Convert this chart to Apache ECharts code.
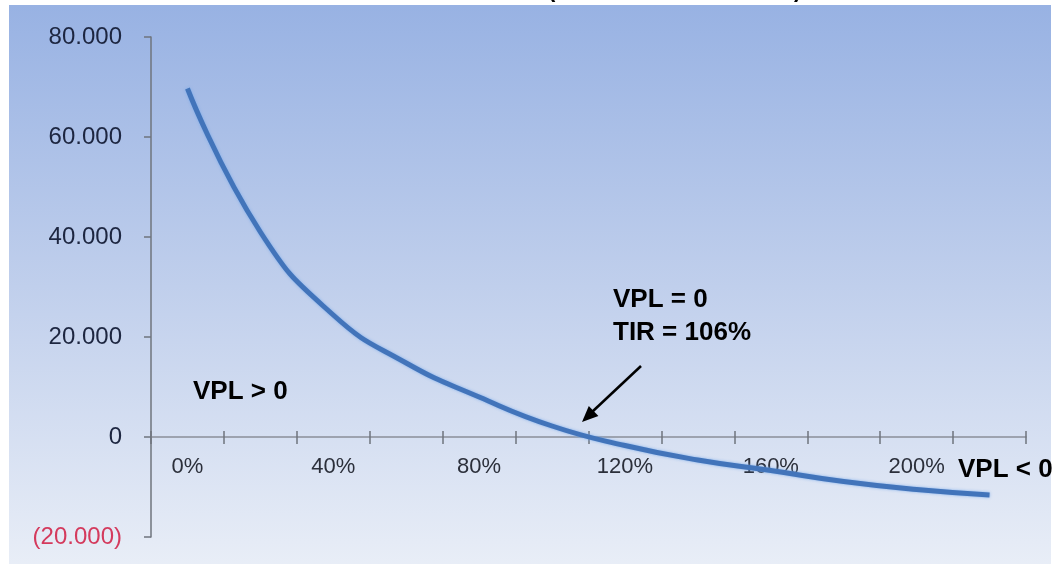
<!DOCTYPE html>
<html>
<head>
<meta charset="utf-8">
<script src="https://cdn.jsdelivr.net/npm/echarts@6/dist/echarts.min.js"></script>
<style>
html,body{margin:0;padding:0;background:#fff;}
#c{width:1058px;height:564px;}
</style>
</head>
<body>
<div id="c"></div>
<script>
// Data
var rates = ['0%','20%','40%','60%','80%','100%','120%','140%','160%','180%','200%','220%'];
var npv = [69700, 41000, 24400, 14800, 8000, 2200, -1700, -4600, -6700, -8900, -10500, -11600];
var yTicks = { min: -20000, max: 80000, interval: 20000 };
var notes = { pos: 'VPL > 0', zero: 'VPL = 0', irr: 'TIR = 106%', neg: 'VPL < 0' };

function fmtThousands(v){
  var s = Math.abs(Math.round(v)).toString().replace(/\B(?=(\d{3})+(?!\d))/g, '.');
  return v < 0 ? '(' + s + ')' : s;
}

var chart = echarts.init(document.getElementById('c'), null, {renderer:'canvas'});
var annFont = 'bold 26px Arial, "Liberation Sans", sans-serif';
// offset of the zero line from the bottom of the grid (px), derived from the axis range
var gridTop = 37, gridBottom = 27, gridH = 564 - gridTop - gridBottom;
var zeroOffset = -gridH * (0 - yTicks.min) / (yTicks.max - yTicks.min);
var option = {
  animation: false,
  grid: { left: 151, right: 32, top: gridTop, bottom: gridBottom, containLabel: false, outerBoundsMode: 'none' },
  xAxis: [{
    type: 'category',
    data: rates,
    position: 'bottom',
    offset: zeroOffset,
    boundaryGap: true,
    axisLine: { onZero: false, lineStyle: { color: '#8a8f99', width: 1.5 } },
    axisTick: { show: true, interval: 0, inside: false, length: 7, lineStyle: { color: '#6f747d', width: 1.5 } },
    axisLabel: { interval: 1, margin: 19, fontSize: 22, fontFamily: 'Arial, "Liberation Sans", sans-serif', color: '#2b2f3a' },
    splitLine: { show: false }
  },{
    type: 'category',
    data: rates,
    position: 'bottom',
    offset: zeroOffset,
    boundaryGap: true,
    axisLine: { onZero: false, show: false },
    axisTick: { show: true, interval: 0, inside: true, length: 6, lineStyle: { color: '#6f747d', width: 1.5 } },
    axisLabel: { show: false },
    splitLine: { show: false }
  }],
  yAxis: {
    type: 'value',
    min: yTicks.min, max: yTicks.max, interval: yTicks.interval,
    axisLine: { show: true, lineStyle: { color: '#6f747d', width: 1.5 } },
    axisTick: { show: true, inside: false, length: 7, lineStyle: { color: '#6f747d', width: 1.5 } },
    splitLine: { show: false },
    axisLabel: {
      margin: 29, fontSize: 24, fontFamily: 'Arial, "Liberation Sans", sans-serif',
      formatter: function(v){ return fmtThousands(v); },
      color: function(v){ return Number(v) < 0 ? '#d43a5d' : '#1d2640'; }
    }
  },
  series: [{
    type: 'line',
    data: npv,
    smooth: true,
    showSymbol: false,
    symbol: 'none',
    z: 5,
    lineStyle: { color: '#4274ba', width: 5, shadowColor: 'rgba(120,170,235,0.9)', shadowBlur: 3 }
  }],
  graphic: [
    { type: 'rect', z: -100, silent: true,
      shape: { x: 9, y: 5, width: 1042, height: 564 },
      style: { fill: new echarts.graphic.LinearGradient(0,0,0,1,[
        {offset:0, color:'#98b2e3'},
        {offset:0.5, color:'#c0cfec'},
        {offset:1, color:'#e9eef7'}
      ]) } },
    { type: 'text', z: 10, left: 548, top: -20.5,
      style: { text: '(TASA DE DESCUENTO)', font: 'bold 22px Arial, "Liberation Sans", sans-serif', fill: '#000' } },
    { type: 'text', z: 10, left: 193, top: 379,
      style: { text: notes.pos, font: annFont, fill: '#000' } },
    { type: 'text', z: 10, left: 613, top: 287,
      style: { text: notes.zero, font: annFont, fill: '#000' } },
    { type: 'text', z: 10, left: 613, top: 320,
      style: { text: notes.irr, font: annFont, fill: '#000' } },
    { type: 'text', z: 10, left: 958, top: 457,
      style: { text: notes.neg, font: annFont, fill: '#000' } },
    { type: 'line', z: 10, shape: { x1: 641, y1: 366, x2: 592, y2: 412 },
      style: { stroke: '#000', lineWidth: 2.5 } },
    { type: 'polygon', z: 10, shape: { points: [[582,422],[598.4,416.1],[588.8,405.9]] },
      style: { fill: '#000' } }
  ]
};
chart.setOption(option);
</script>
</body>
</html>
